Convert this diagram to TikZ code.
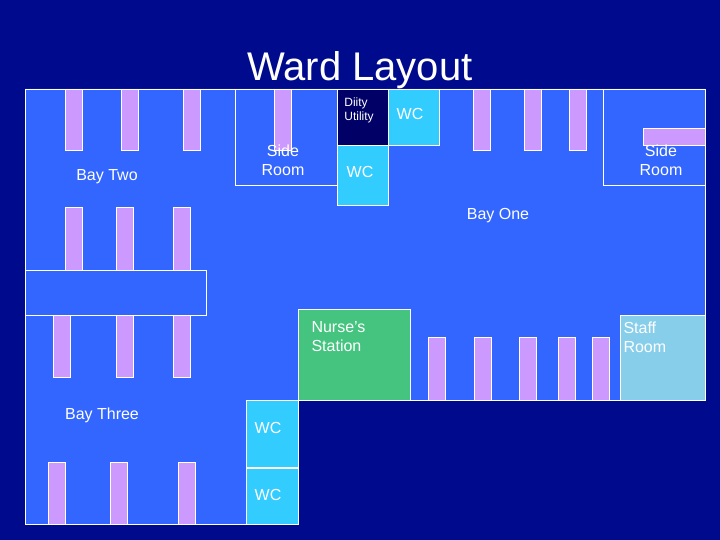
\documentclass[tikz,border=0pt]{standalone}
\usepackage{fontspec}
\setmainfont{Liberation Sans}
\begin{document}
\begin{tikzpicture}[x=1pt,y=-1pt,
  wall/.style={draw=white,line width=0.8pt},
  bed/.style={fill=bedc,draw=white,line width=0.5pt},
  lbl/.style={text=white,font=\fontsize{16}{19}\selectfont,align=left},
  wcbox/.style={fill=wcc,draw=white,line width=0.8pt}]
\definecolor{bgc}{HTML}{000A8C}
\definecolor{floor}{HTML}{3366FF}
\definecolor{bedc}{HTML}{CC99FF}
\definecolor{wcc}{HTML}{33CCFF}
\definecolor{dirty}{HTML}{000066}
\definecolor{nurse}{HTML}{44C47F}
\definecolor{staff}{HTML}{87CEEB}
\fill[bgc] (0,0) rectangle (720,540);
\useasboundingbox (0,0) rectangle (720,540);
% floor
\draw[wall,fill=floor] (25,89) -- (705,89) -- (705,400) -- (298,400) -- (298,524) -- (25,524) -- cycle;
% title
\node[text=white,font=\fontsize{40}{44}\selectfont] (title) at (360,70) {Ward Layout};
% top left beds
\foreach \x in {65,121,183} \draw[bed] (\x,89) rectangle ++(17,61);
% side room left
\draw[wall] (235,89) rectangle (337,185);
\draw[bed] (274,89) rectangle (291,150);
\node[lbl,align=center] (srl) at (283,160) {Side\\Room};
% dirty utility & WCs
\draw[wall,fill=dirty] (337,89) rectangle (388,145);
\node[text=white,font=\fontsize{12}{14}\selectfont,align=left] (du) at (359,110) {Diity\\Utility};
\draw[wcbox] (388,89) rectangle (439,145);
\node[lbl] (wc1) at (410,114) {WC};
\draw[wcbox] (337,145) rectangle (388,205);
\node[lbl] (wc2) at (360,172) {WC};
% top right beds
\foreach \x in {473,524,569} \draw[bed] (\x,89) rectangle ++(17,61);
% side room right
\draw[wall] (603,89) rectangle (705,185);
\draw[bed] (643,128) rectangle (705,145);
\node[lbl,align=center] (srr) at (661,160) {Side\\Room};
\node[lbl] (b2) at (107,177) {Bay Two};
\node[lbl] (b1) at (498,216) {Bay One};
% middle left beds
\foreach \x in {65,116,173} \draw[bed] (\x,207) rectangle ++(17,63);
\draw[wall] (25,270) rectangle (206,315);
\foreach \x in {53,116,173} \draw[bed] (\x,315) rectangle ++(17,62);
% nurse station
\draw[wall,fill=nurse] (298,309) rectangle (410,400);
\node[lbl,anchor=north west] (ns) at (308,318) {Nurse’s\\Station};
\foreach \x in {428,474,519,558,592} \draw[bed] (\x,337) rectangle ++(17,63);
\draw[wall,fill=staff] (620,315) rectangle (705,400);
\node[lbl,anchor=north west] (st) at (620,318) {Staff\\Room};
% lower
\draw[wall,fill=bgc] (298,400) rectangle (705,524);
\fill[bgc] (298.5,400.5) rectangle (720,540);
\node[lbl] (b3) at (102,415) {Bay Three};
\draw[wcbox] (246,400) rectangle (298,467);
\node[lbl] (wc3) at (268,428) {WC};
\draw[wcbox] (246,468) rectangle (298,524);
\node[lbl] (wc4) at (268,495) {WC};
\foreach \x in {48,110,178} \draw[bed] (\x,462) rectangle ++(17,62);
\end{tikzpicture}
\end{document}
